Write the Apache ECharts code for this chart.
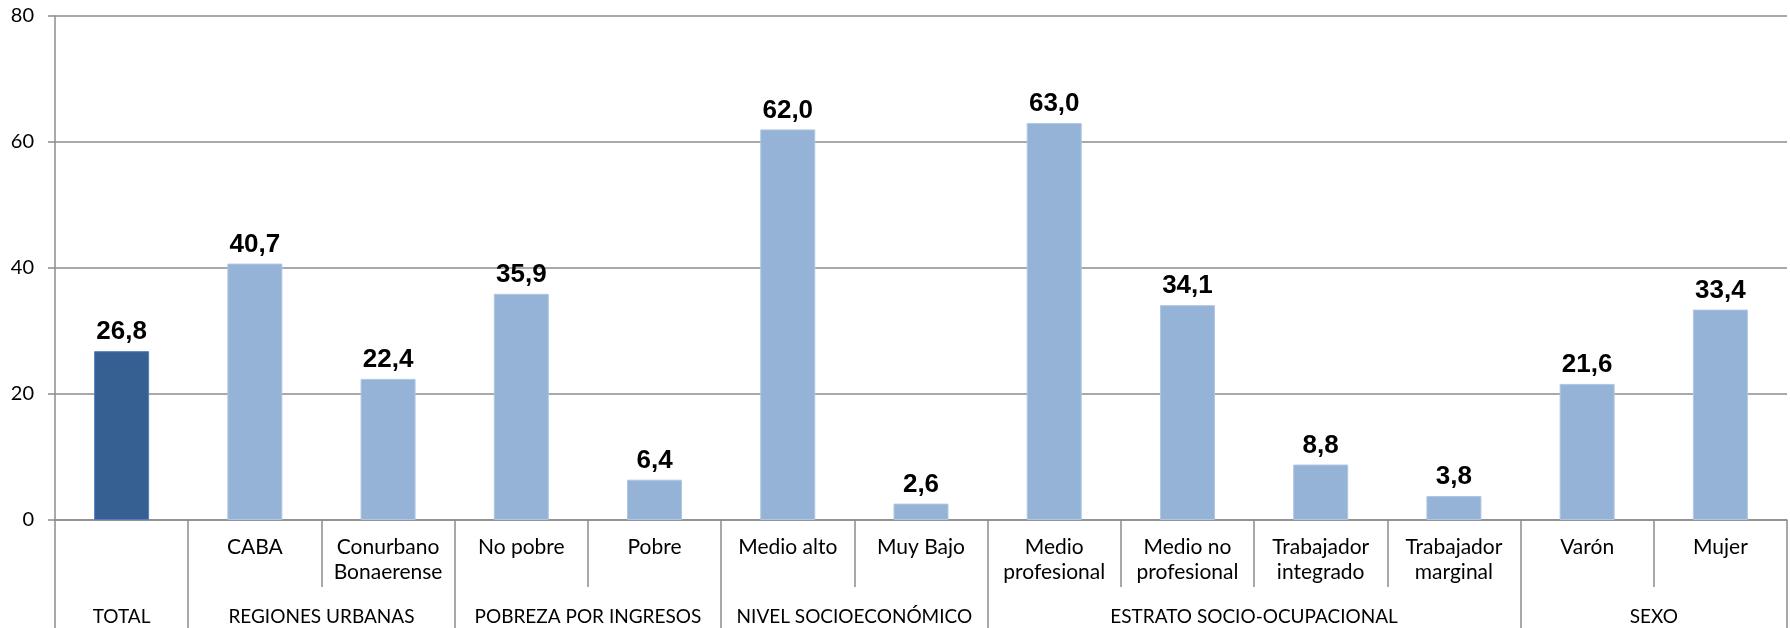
<!DOCTYPE html>
<html>
<head>
<meta charset="utf-8">
<script src="https://cdn.jsdelivr.net/npm/echarts@6/dist/echarts.min.js"></script>
<style>
  html, body { margin: 0; padding: 0; background: #fff; }
  #chart { width: 1790px; height: 628px; }
</style>
</head>
<body>
<div id="chart"></div>
<script>
// categorias de primer nivel (barras)
const categories = ['', 'CABA', 'Conurbano\nBonaerense', 'No pobre', 'Pobre', 'Medio alto', 'Muy Bajo',
  'Medio\nprofesional', 'Medio no\nprofesional', 'Trabajador\nintegrado', 'Trabajador\nmarginal', 'Varón', 'Mujer'];
const values = [26.8, 40.7, 22.4, 35.9, 6.4, 62.0, 2.6, 63.0, 34.1, 8.8, 3.8, 21.6, 33.4];
// grupos y cuantas categorias abarca cada uno
const groups = ['TOTAL', 'REGIONES URBANAS', 'POBREZA POR INGRESOS', 'NIVEL SOCIOECONÓMICO', 'ESTRATO SOCIO-OCUPACIONAL', 'SEXO'];
const groupSizes = [1, 2, 2, 2, 4, 2];
const yTicks = [0, 20, 40, 60, 80];

// eje de grupos: puntos cada media categoria (boundaryGap false)
const halfSlots = [];
for (let i = 0; i <= categories.length * 2; i++) halfSlots.push('');
const boundaryIdx = [0];
const labelIdx = {};
let pos = 0;
groups.forEach(function (g, k) {
  labelIdx[pos * 2 + groupSizes[k]] = g;
  pos += groupSizes[k];
  boundaryIdx.push(pos * 2);
});
Object.keys(labelIdx).forEach(function (i) { halfSlots[i] = labelIdx[i]; });

const gray = '#8c8c8c';
const chart = echarts.init(document.getElementById('chart'));

let option = {
  animation: false,
  grid: {left: 55, right: 3, top: 16, bottom: 108},
  xAxis: [
    {
      type: 'category',
      data: categories,
      position: 'bottom',
      axisLine: {show: true, lineStyle: {color: gray, width: 1.5}},
      axisTick: {show: true, length: 67, interval: 0, lineStyle: {color: gray, width: 1.5}},
      axisLabel: {
        interval: 0,
        margin: 15,
        color: '#000',
        fontFamily: 'Lato',
        fontSize: 21,
        lineHeight: 25,
        verticalAlign: 'top'
      }
    },
    {
      type: 'category',
      data: halfSlots,
      position: 'bottom',
      boundaryGap: false,
      axisLine: {show: false},
      axisTick: {
        show: true,
        length: 110,
        interval: function (index) { return boundaryIdx.indexOf(index) >= 0; },
        lineStyle: {color: gray, width: 1.5}
      },
      axisLabel: {
        interval: function (index, value) { return value !== ''; },
        margin: 87,
        color: '#000',
        fontFamily: 'Lato',
        fontSize: 19,
        verticalAlign: 'top'
      }
    }
  ],
  yAxis: {
    type: 'value',
    min: yTicks[0],
    max: yTicks[yTicks.length - 1],
    interval: 20,
    axisLine: {show: true, lineStyle: {color: gray, width: 1.5}},
    axisTick: {show: true, length: 7, lineStyle: {color: gray, width: 1.5}},
    splitLine: {lineStyle: {color: gray, width: 1.5}},
    axisLabel: {margin: 21, color: '#000', fontFamily: 'Lato', fontSize: 20}
  },
  series: [
    {
      type: 'bar',
      xAxisIndex: 0,
      barWidth: 55,
      data: values.map(function (v, i) {
        if (i === 0) {
          return {value: v, itemStyle: {color: '#366092', borderColor: '#4f81bd', borderWidth: 1}};
        }
        return v;
      }),
      itemStyle: {color: '#95b3d7', borderColor: '#b0c6e2', borderWidth: 1},
      label: {
        show: true,
        position: 'top',
        distance: 6,
        color: '#000',
        fontFamily: 'Liberation Sans',
        fontWeight: 'bold',
        fontSize: 26,
        formatter: function (p) { return p.value.toFixed(1).replace('.', ','); }
      }
    }
  ]
};

chart.setOption(option);
</script>
</body>
</html>
